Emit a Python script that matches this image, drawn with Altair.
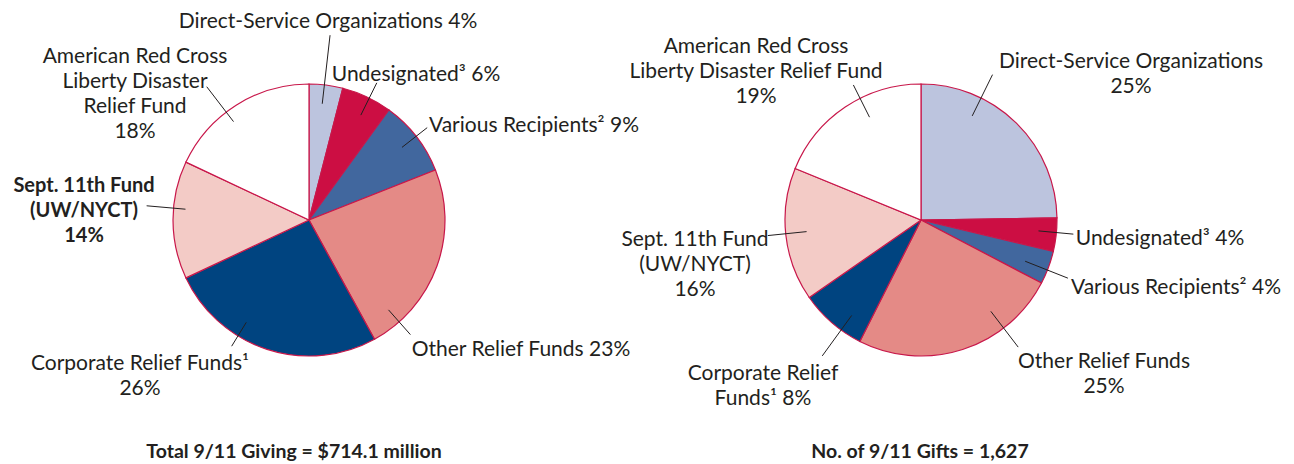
import math
import altair as alt
import pandas as pd

# ---------------- data ----------------
categories = [
    "Direct-Service Organizations",
    "Undesignated",
    "Various Recipients",
    "Other Relief Funds",
    "Corporate Relief Funds",
    "Sept. 11th Fund (UW/NYCT)",
    "American Red Cross Liberty Disaster Relief Fund",
]
giving_pct = [4, 6, 9, 23, 26, 14, 18]     # Total 9/11 giving
gifts_pct = [25, 4, 4, 25, 8, 16, 19]      # Number of 9/11 gifts

slice_colors = ["#bcc4de", "#cc0e43", "#41679e", "#e48a86", "#004480", "#f3cbc6", "#ffffff"]

giving_labels = [
    "Direct-Service Organizations 4%",
    "Undesignated³ 6%",
    "Various Recipients² 9%",
    "Other Relief Funds 23%",
    "Corporate Relief Funds¹\n26%",
    "Sept. 11th Fund\n(UW/NYCT)\n14%",
    "American Red Cross\nLiberty Disaster\nRelief Fund\n18%",
]
gifts_labels = [
    "Direct-Service Organizations\n25%",
    "Undesignated³ 4%",
    "Various Recipients² 4%",
    "Other Relief Funds\n25%",
    "Corporate Relief\nFunds¹ 8%",
    "Sept. 11th Fund\n(UW/NYCT)\n16%",
    "American Red Cross\nLiberty Disaster Relief Fund\n19%",
]
titles = ["Total 9/11 Giving = $714.1 million", "No. of 9/11 Gifts = 1,627"]

# ---------------- layout (page pixels) ----------------
W, H = 1278, 456
M = 8
R = 136
centers = [(309, 220), (921, 220)]
# leader lines: angle (deg clockwise from 12 o'clock), inner r, outer r
giving_leaders = [(6.5, 117, 186), (26.3, 117, 153), (52, 118, 150), (138.5, 120, 153),
                  (211.5, 120, 148), (275, 124, 163), (322.5, 124, 168)]
gifts_leaders = [(26.2, 116, 162), (95.3, 118, 153), (111.6, 112, 158), (142.6, 115, 160),
                 (216, 118, 168), (264.2, 115, 154), (333.4, 115, 151)]
# label anchor: centre x, centre y of first line
giving_label_pos = [(328, 22), (416, 75), (534, 126), (521, 350), (140, 364), (84, 186), (135, 57)]
gifts_label_pos = [(1131, 62), (1160, 239), (1176, 288), (1104, 362), (763, 374), (695, 240), (756, 47)]
title_pos = [(294, 452), (920, 452)]

FONT = "Lato"
TXT = "#231f20"
STROKE = "#c8174a"

xs = alt.Scale(domain=[M, M + W], nice=False, zero=False)
ys = alt.Scale(domain=[M, M + H], nice=False, zero=False, reverse=True)


def pie(values, center):
    df = pd.DataFrame({"category": categories, "value": values,
                       "color": slice_colors, "idx": list(range(len(values)))})
    return alt.Chart(df).mark_arc(outerRadius=R, stroke=STROKE, strokeWidth=1.2).encode(
        theta=alt.Theta("value:Q", stack=True),
        order=alt.Order("idx:Q"),
        color=alt.Color("color:N", scale=None),
        x=alt.value(center[0] - M),
        y=alt.value(center[1] - M),
    )


rows = []
for leaders, center in [(giving_leaders, centers[0]), (gifts_leaders, centers[1])]:
    for ang, r1, r2 in leaders:
        a = math.radians(ang)
        rows.append({
            "x1": center[0] + r1 * math.sin(a), "y1": center[1] - r1 * math.cos(a),
            "x2": center[0] + r2 * math.sin(a), "y2": center[1] - r2 * math.cos(a),
        })
leader_df = pd.DataFrame(rows)

lab_rows = []
for labels, pos, pie_id in [(giving_labels, giving_label_pos, 0), (gifts_labels, gifts_label_pos, 1)]:
    for i, (lab, (px, py)) in enumerate(zip(labels, pos)):
        bold = (pie_id == 0 and i == 5)
        lab_rows.append({"label": lab, "tx": px, "ty": py, "bold": bold})
lab_df = pd.DataFrame(lab_rows)
title_df = pd.DataFrame({"label": titles, "tx": [p[0] for p in title_pos], "ty": [p[1] for p in title_pos]})

leaders_layer = alt.Chart(leader_df).mark_rule(color=TXT, strokeWidth=1).encode(
    x=alt.X("x1:Q", scale=xs, axis=None),
    y=alt.Y("y1:Q", scale=ys, axis=None),
    x2="x2:Q",
    y2="y2:Q",
)

text_base = dict(font=FONT, lineBreak="\n", lineHeight=25,
                 align="center", baseline="middle", color=TXT)

labels_layer = alt.Chart(lab_df).transform_filter("!datum.bold").mark_text(fontSize=21, **text_base).encode(
    x=alt.X("tx:Q", scale=xs, axis=None),
    y=alt.Y("ty:Q", scale=ys, axis=None),
    text="label:N",
)
bold_layer = alt.Chart(lab_df).transform_filter("datum.bold").mark_text(
    fontSize=20, fontWeight="bold", **text_base).encode(
    x=alt.X("tx:Q", scale=xs, axis=None),
    y=alt.Y("ty:Q", scale=ys, axis=None),
    text="label:N",
)
title_layer = alt.Chart(title_df).mark_text(fontSize=19.5, fontWeight="bold", **text_base).encode(
    x=alt.X("tx:Q", scale=xs, axis=None),
    y=alt.Y("ty:Q", scale=ys, axis=None),
    text="label:N",
)

chart = alt.layer(
    pie(giving_pct, centers[0]),
    pie(gifts_pct, centers[1]),
    leaders_layer,
    labels_layer,
    bold_layer,
    title_layer,
).resolve_scale(theta="independent").properties(
    width=W, height=H, padding=0,
    autosize=alt.AutoSizeParams(type="none"),
    background="#ffffff",
).configure_view(stroke=None)

chart.save("out.html", embed_options={"renderer": "svg", "actions": False})
